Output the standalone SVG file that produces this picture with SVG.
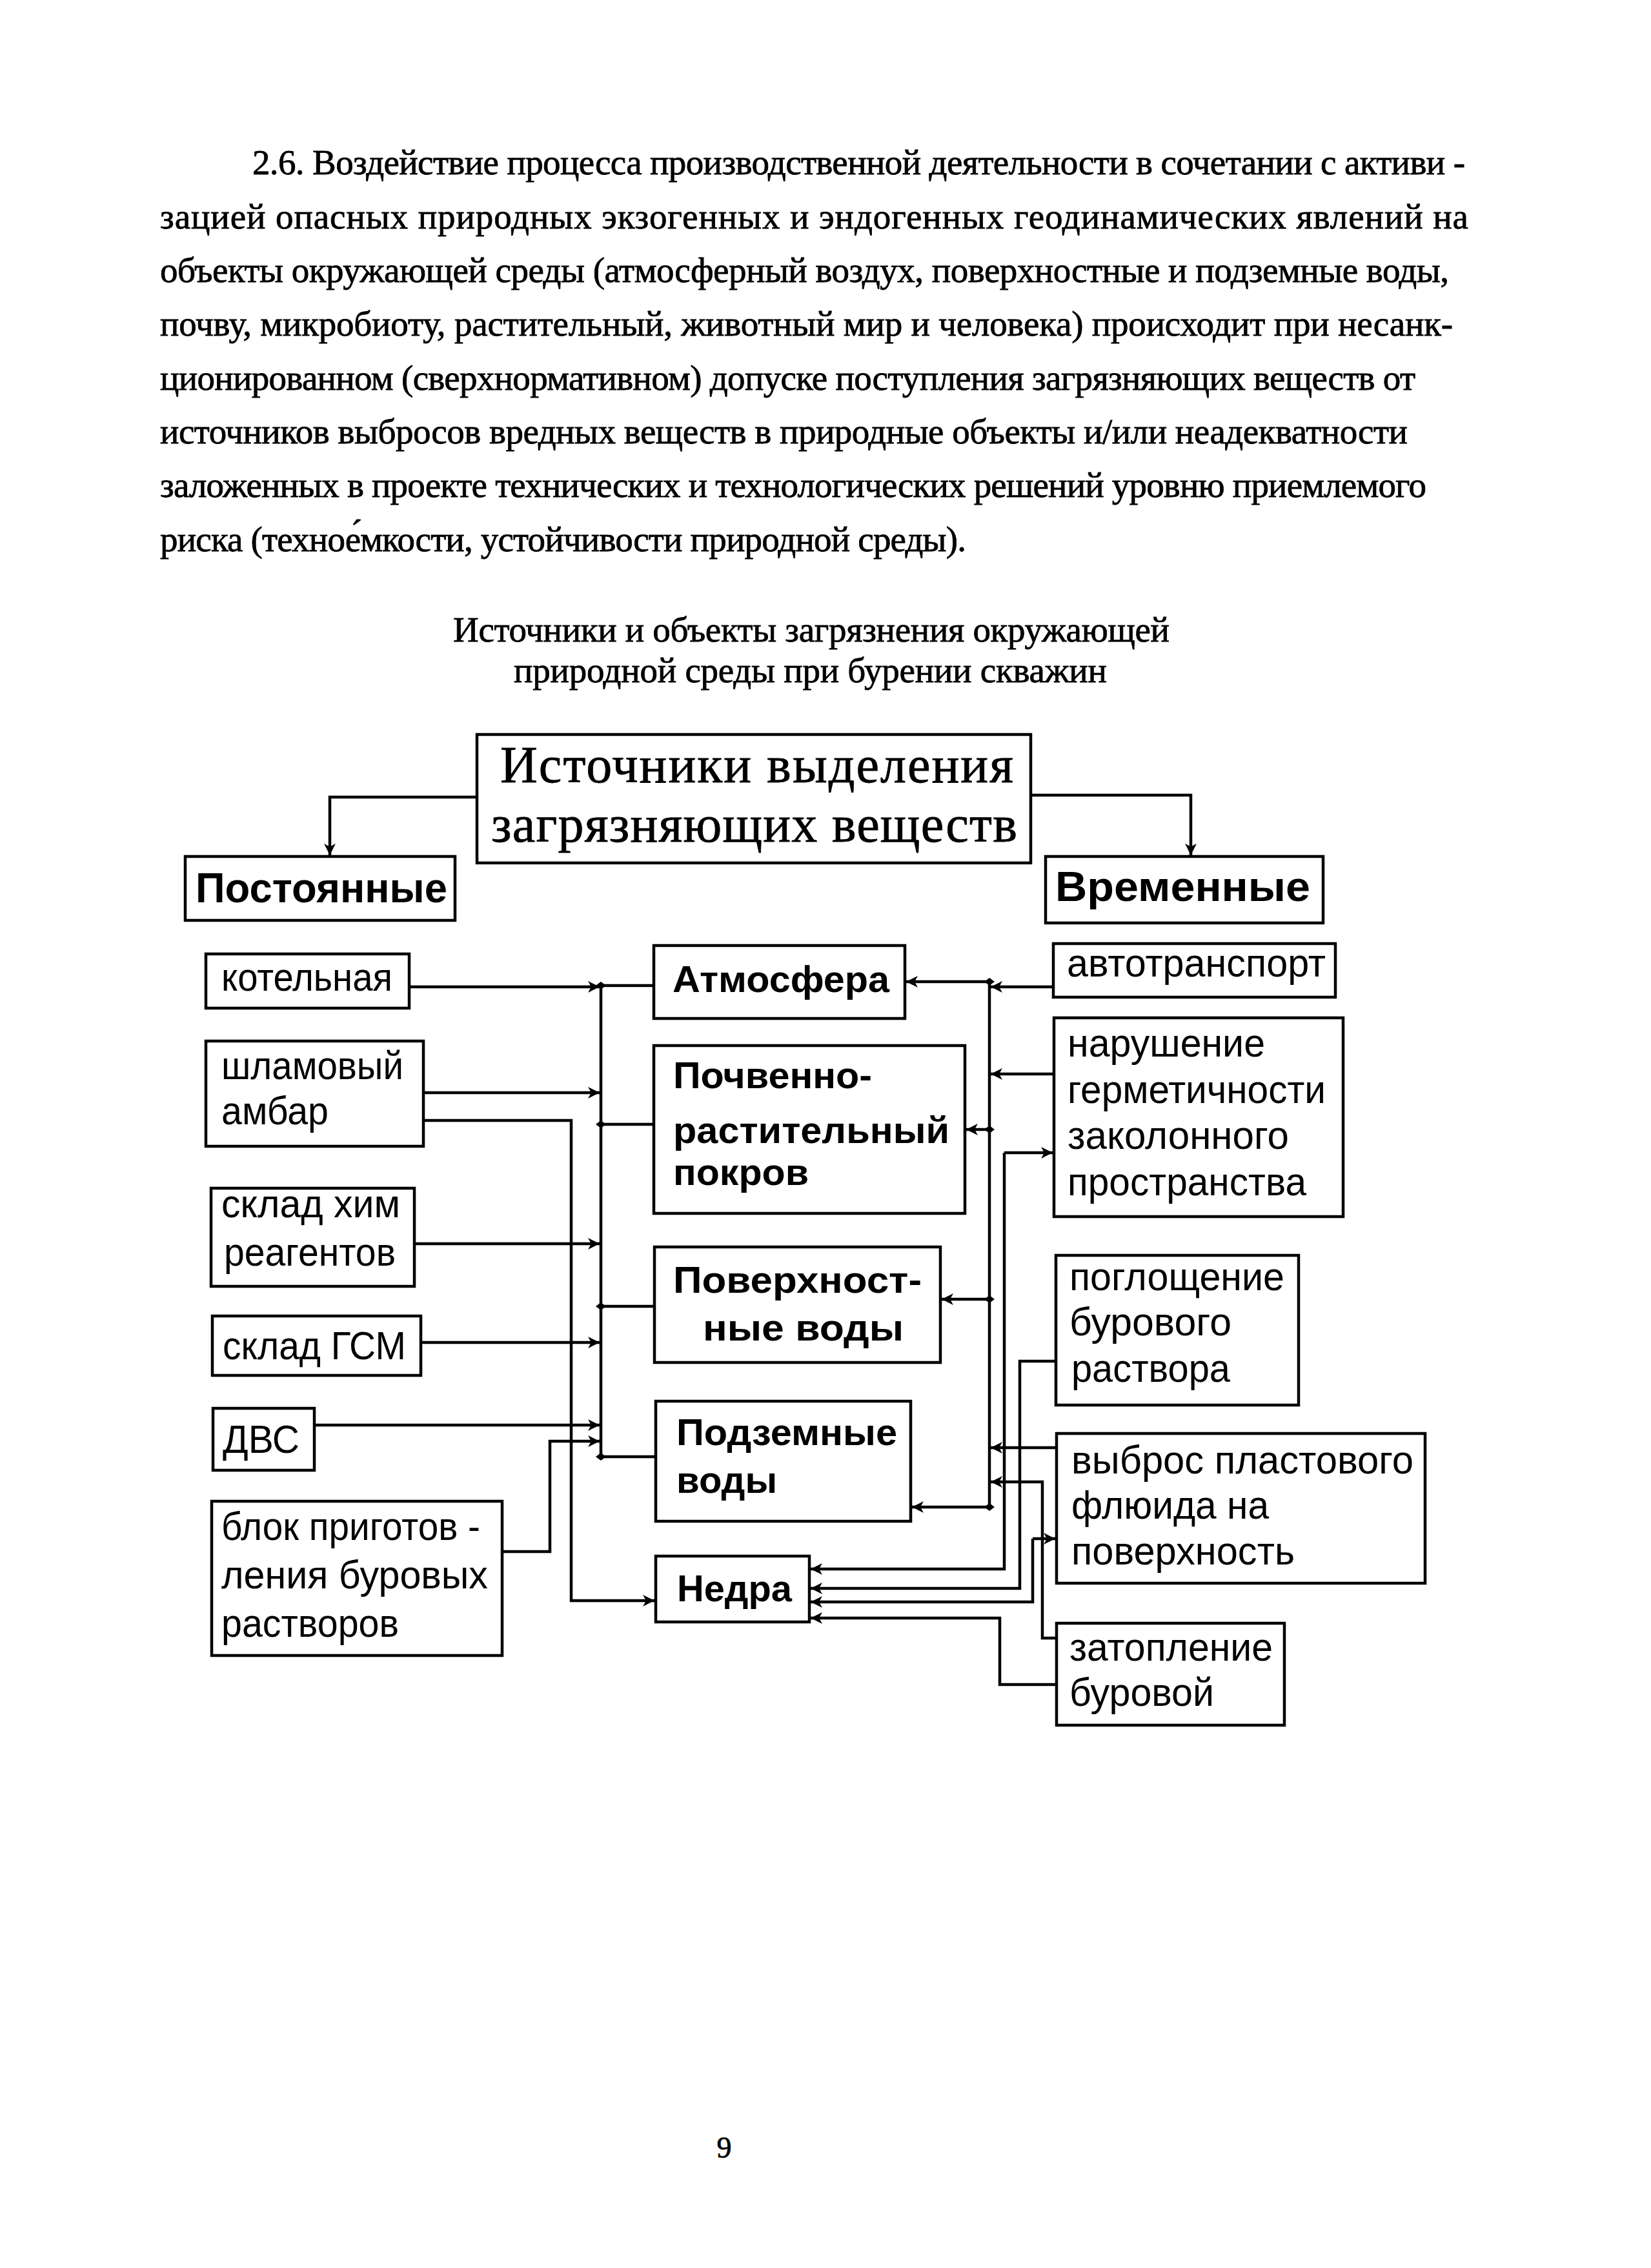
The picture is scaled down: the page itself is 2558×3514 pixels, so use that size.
<svg xmlns="http://www.w3.org/2000/svg" width="2558" height="3514" viewBox="0 0 2558 3514">
<style>
.para{font-family:"Liberation Serif","Times New Roman",serif;font-size:55px;fill:#000;stroke:#000;stroke-width:0.8}
.big{font-family:"Liberation Serif","Times New Roman",serif;font-size:80px;fill:#000;stroke:#000;stroke-width:0.8}
.lbl{font-family:"Liberation Sans",Arial,sans-serif;font-size:62px;fill:#000}
.bld{font-family:"Liberation Sans",Arial,sans-serif;font-size:57px;font-weight:bold;fill:#000}
.hdr{font-family:"Liberation Sans",Arial,sans-serif;font-size:65px;font-weight:bold;fill:#000}
.box{fill:#fff;stroke:#000;stroke-width:4.5}
.ln{fill:none;stroke:#000;stroke-width:4.5}
</style>
<defs>
<marker id="ah" viewBox="0 0 20 20" refX="18" refY="10" markerWidth="20" markerHeight="20" markerUnits="userSpaceOnUse" orient="auto">
<path d="M0,1 L18,10 L0,19 L5,10 Z" fill="#000" stroke="none"/>
</marker>
<path id="dot" d="M-8,0 L0,-6 L8,0 L0,6 Z" fill="#000"/>
</defs>
<rect width="2558" height="3514" fill="#fff"/>

<g id="paragraph">
<text class="para" x="391" y="270" textLength="1879" lengthAdjust="spacing">2.6. Воздействие процесса производственной деятельности в сочетании с активи -</text>
<text class="para" x="248" y="354" textLength="2027" lengthAdjust="spacing">зацией опасных природных экзогенных  и  эндогенных  геодинамических  явлений  на</text>
<text class="para" x="248" y="437" textLength="1997" lengthAdjust="spacing">объекты окружающей среды (атмосферный воздух, поверхностные и подземные воды,</text>
<text class="para" x="248" y="520" textLength="2003" lengthAdjust="spacing">почву, микробиоту, растительный, животный мир и человека) происходит при несанк-</text>
<text class="para" x="248" y="604" textLength="1945" lengthAdjust="spacing">ционированном (сверхнормативном) допуске поступления загрязняющих веществ от</text>
<text class="para" x="248" y="687" textLength="1933" lengthAdjust="spacing">источников выбросов вредных веществ в природные объекты и/или неадекватности</text>
<text class="para" x="248" y="770" textLength="1962" lengthAdjust="spacing">заложенных в проекте технических и технологических решений уровню приемлемого</text>
<text class="para" x="248" y="854" textLength="1249" lengthAdjust="spacing">риска (техное́мкости, устойчивости природной среды).</text>
</g>

<g id="caption">
<text class="para" x="702" y="994" textLength="1110" lengthAdjust="spacing">Источники и объекты загрязнения окружающей</text>
<text class="para" x="796" y="1057" textLength="919" lengthAdjust="spacing">природной среды при бурении скважин</text>
</g>

<g id="connectors">
<path class="ln" d="M739,1235 H511 V1325" marker-end="url(#ah)"/>
<path class="ln" d="M1597,1232 H1845 V1325" marker-end="url(#ah)"/>
<path class="ln" d="M931,1527 V2257"/>
<path class="ln" d="M634,1529 H929" marker-end="url(#ah)"/>
<path class="ln" d="M931,1527 H1013"/>
<path class="ln" d="M656,1693 H929" marker-end="url(#ah)"/>
<path class="ln" d="M656,1736 H885 V2480 H1014" marker-end="url(#ah)"/>
<path class="ln" d="M931,1742 H1013"/>
<path class="ln" d="M642,1927 H929" marker-end="url(#ah)"/>
<path class="ln" d="M931,2024 H1014"/>
<path class="ln" d="M652,2080 H929" marker-end="url(#ah)"/>
<path class="ln" d="M487,2208 H929" marker-end="url(#ah)"/>
<path class="ln" d="M778,2404 H852 V2233 H929" marker-end="url(#ah)"/>
<path class="ln" d="M931,2257 H1016"/>
<path class="ln" d="M1533,1521 V2335"/>
<path class="ln" d="M1533,1521 H1404" marker-end="url(#ah)"/>
<path class="ln" d="M1632,1529 H1535" marker-end="url(#ah)"/>
<path class="ln" d="M1633,1664 H1535" marker-end="url(#ah)"/>
<path class="ln" d="M1533,1750 H1497" marker-end="url(#ah)"/>
<path class="ln" d="M1533,2013 H1459" marker-end="url(#ah)"/>
<path class="ln" d="M1637,2243 H1535" marker-end="url(#ah)"/>
<path class="ln" d="M1637,2538 H1615 V2296 H1535" marker-end="url(#ah)"/>
<path class="ln" d="M1533,2335 H1413" marker-end="url(#ah)"/>
<path class="ln" d="M1556,1786 H1631" marker-end="url(#ah)"/>
<path class="ln" d="M1556,1786 V2431 H1256" marker-end="url(#ah)"/>
<path class="ln" d="M1636,2109 H1580 V2461 H1256" marker-end="url(#ah)"/>
<path class="ln" d="M1600,2384 H1635" marker-end="url(#ah)"/>
<path class="ln" d="M1600,2384 V2482 H1256" marker-end="url(#ah)"/>
<path class="ln" d="M1637,2610 H1549 V2507 H1256" marker-end="url(#ah)"/>
<use href="#dot" x="931" y="1527"/>
<use href="#dot" x="931" y="1742"/>
<use href="#dot" x="931" y="2024"/>
<use href="#dot" x="931" y="2257"/>
<use href="#dot" x="1533" y="1521"/>
<use href="#dot" x="1533" y="1750"/>
<use href="#dot" x="1533" y="2013"/>
<use href="#dot" x="1533" y="2335"/>
</g>

<g id="n-sources">
<rect class="box" x="739" y="1138" width="858" height="199"/>
<text class="big" x="775" y="1212" textLength="795" lengthAdjust="spacing">Источники  выделения</text>
<text class="big" x="761" y="1304" textLength="815" lengthAdjust="spacing">загрязняющих веществ</text>
</g>

<g id="n-permanent">
<rect class="box" x="287" y="1327" width="418" height="99"/>
<text class="hdr" x="303" y="1398" textLength="390" lengthAdjust="spacingAndGlyphs">Постоянные</text>
</g>
<g id="n-temporary">
<rect class="box" x="1620" y="1327" width="430" height="103"/>
<text class="hdr" x="1635" y="1396" textLength="395" lengthAdjust="spacingAndGlyphs">Временные</text>
</g>

<g id="n-kotelnaya">
<rect class="box" x="319" y="1478" width="315" height="84"/>
<text class="lbl" x="343" y="1535" textLength="265" lengthAdjust="spacingAndGlyphs">котельная</text>
</g>
<g id="n-shlam">
<rect class="box" x="319" y="1613" width="337" height="163"/>
<text class="lbl" x="343" y="1672" textLength="282" lengthAdjust="spacingAndGlyphs">шламовый</text>
<text class="lbl" x="343" y="1742" textLength="166" lengthAdjust="spacingAndGlyphs">амбар</text>
</g>
<g id="n-himreag">
<rect class="box" x="327" y="1841" width="315" height="152"/>
<text class="lbl" x="343" y="1886" textLength="277" lengthAdjust="spacingAndGlyphs">склад  хим</text>
<text class="lbl" x="347" y="1961" textLength="266" lengthAdjust="spacingAndGlyphs">реагентов</text>
</g>
<g id="n-gsm">
<rect class="box" x="329" y="2039" width="323" height="92"/>
<text class="lbl" x="345" y="2106" textLength="284" lengthAdjust="spacingAndGlyphs">склад ГСМ</text>
</g>
<g id="n-dvs">
<rect class="box" x="330" y="2182" width="157" height="96"/>
<text class="lbl" x="345" y="2251" textLength="119" lengthAdjust="spacingAndGlyphs">ДВС</text>
</g>
<g id="n-blok">
<rect class="box" x="328" y="2326" width="450" height="239"/>
<text class="lbl" x="343" y="2386" textLength="401" lengthAdjust="spacingAndGlyphs">блок приготов -</text>
<text class="lbl" x="343" y="2461" textLength="413" lengthAdjust="spacingAndGlyphs">ления  буровых</text>
<text class="lbl" x="343" y="2536" textLength="275" lengthAdjust="spacingAndGlyphs">растворов</text>
</g>

<g id="n-atmosfera">
<rect class="box" x="1013" y="1465" width="389" height="113"/>
<text class="bld" x="1042" y="1537" textLength="336" lengthAdjust="spacingAndGlyphs">Атмосфера</text>
</g>
<g id="n-pochva">
<rect class="box" x="1013" y="1620" width="482" height="260"/>
<text class="bld" x="1043" y="1686" textLength="308" lengthAdjust="spacingAndGlyphs">Почвенно-</text>
<text class="bld" x="1043" y="1771" textLength="428" lengthAdjust="spacingAndGlyphs">растительный</text>
<text class="bld" x="1043" y="1836" textLength="210" lengthAdjust="spacingAndGlyphs">покров</text>
</g>
<g id="n-poverh">
<rect class="box" x="1014" y="1932" width="443" height="179"/>
<text class="bld" x="1043" y="2003" textLength="385" lengthAdjust="spacingAndGlyphs">Поверхност-</text>
<text class="bld" x="1089" y="2077" textLength="311" lengthAdjust="spacingAndGlyphs">ные  воды</text>
</g>
<g id="n-podzem">
<rect class="box" x="1016" y="2171" width="395" height="186"/>
<text class="bld" x="1048" y="2239" textLength="342" lengthAdjust="spacingAndGlyphs">Подземные</text>
<text class="bld" x="1048" y="2313" textLength="156" lengthAdjust="spacingAndGlyphs">воды</text>
</g>
<g id="n-nedra">
<rect class="box" x="1016" y="2411" width="238" height="102"/>
<text class="bld" x="1049" y="2481" textLength="178" lengthAdjust="spacingAndGlyphs">Недра</text>
</g>

<g id="n-avto">
<rect class="box" x="1632" y="1462" width="437" height="83"/>
<text class="lbl" x="1653" y="1513" textLength="401" lengthAdjust="spacingAndGlyphs">автотранспорт</text>
</g>
<g id="n-narush">
<rect class="box" x="1633" y="1577" width="448" height="308"/>
<text class="lbl" x="1654" y="1637" textLength="306" lengthAdjust="spacingAndGlyphs">нарушение</text>
<text class="lbl" x="1654" y="1709" textLength="400" lengthAdjust="spacingAndGlyphs">герметичности</text>
<text class="lbl" x="1654" y="1780" textLength="343" lengthAdjust="spacingAndGlyphs">заколонного</text>
<text class="lbl" x="1654" y="1852" textLength="370" lengthAdjust="spacingAndGlyphs">пространства</text>
</g>
<g id="n-pogl">
<rect class="box" x="1636" y="1945" width="376" height="232"/>
<text class="lbl" x="1657" y="1999" textLength="333" lengthAdjust="spacingAndGlyphs">поглощение</text>
<text class="lbl" x="1657" y="2069" textLength="251" lengthAdjust="spacingAndGlyphs">бурового</text>
<text class="lbl" x="1660" y="2141" textLength="246" lengthAdjust="spacingAndGlyphs">раствора</text>
</g>
<g id="n-vybros">
<rect class="box" x="1637" y="2221" width="571" height="232"/>
<text class="lbl" x="1660" y="2283" textLength="530" lengthAdjust="spacingAndGlyphs">выброс пластового</text>
<text class="lbl" x="1660" y="2353" textLength="306" lengthAdjust="spacingAndGlyphs">флюида на</text>
<text class="lbl" x="1660" y="2424" textLength="346" lengthAdjust="spacingAndGlyphs">поверхность</text>
</g>
<g id="n-zatopl">
<rect class="box" x="1637" y="2515" width="353" height="158"/>
<text class="lbl" x="1657" y="2573" textLength="315" lengthAdjust="spacingAndGlyphs">затопление</text>
<text class="lbl" x="1657" y="2643" textLength="224" lengthAdjust="spacingAndGlyphs">буровой</text>
</g>

<g id="page-number">
<text class="para" x="1122" y="3343" text-anchor="middle" style="font-size:46px">9</text>
</g>
</svg>
